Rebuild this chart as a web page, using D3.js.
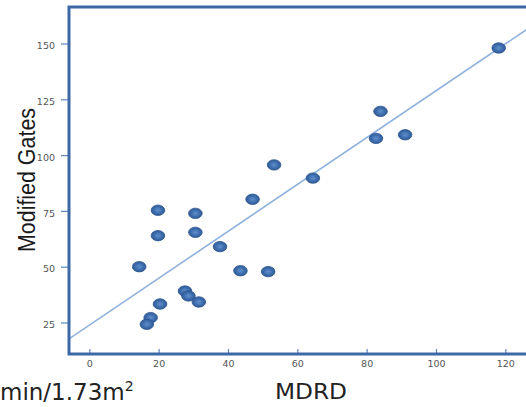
<!DOCTYPE html>
<html>
<head>
<meta charset="utf-8">
<script src="https://cdn.jsdelivr.net/npm/d3@7"></script>
<style>
  html, body { margin: 0; padding: 0; background: #fff; overflow: hidden; }
  svg { display: block; }
</style>
</head>
<body>
<script>
// eGFR by MDRD (x) against Modified Gates (y), one entry per patient
const mdrd = [53.3, 47.1, 19.8, 30.6, 19.8, 30.6, 37.7, 14.4, 43.6, 51.6, 27.6,
              28.6, 31.6, 20.4, 17.7, 16.6, 118.1, 84.0, 82.7, 91.1, 64.5];
const gates = [95.6, 80.2, 75.3, 73.9, 63.9, 65.4, 59.0, 50.0, 48.2, 47.8, 39.1,
               36.9, 34.2, 33.3, 27.2, 24.2, 148.0, 119.6, 107.5, 109.1, 89.7];

// fit line: gates = intercept + slope * mdrd
const fitIntercept = 23.8;
const fitSlope = 1.05;

const xTicks = [0, 20, 40, 60, 80, 100, 120];
const yTicks = [25, 50, 75, 100, 125, 150];

const W = 526, H = 407;
const frame = { left: 69, top: 7, right: 527.5, bottom: 354 };

const x = d3.scaleLinear().domain([0, 120]).range([89.3, 505.3]);
const y = d3.scaleLinear().domain([25, 150]).range([322.5, 43.5]);

const svg = d3.select("body").append("svg")
  .attr("width", W).attr("height", H);

const defs = svg.append("defs");
const grad = defs.append("radialGradient").attr("id", "dot")
  .attr("cx", "50%").attr("cy", "50%").attr("r", "55%");
grad.append("stop").attr("offset", "0%").attr("stop-color", "#5f90cc");
grad.append("stop").attr("offset", "55%").attr("stop-color", "#3f6eae");
grad.append("stop").attr("offset", "100%").attr("stop-color", "#2c5690");

defs.append("clipPath").attr("id", "plotClip")
  .append("rect")
  .attr("x", frame.left).attr("y", frame.top)
  .attr("width", frame.right - frame.left)
  .attr("height", frame.bottom - frame.top);

// fit line, clipped to the plot frame
const xd0 = x.invert(frame.left), xd1 = x.invert(frame.right);
svg.append("line")
  .attr("clip-path", "url(#plotClip)")
  .attr("x1", x(xd0)).attr("y1", y(fitIntercept + fitSlope * xd0))
  .attr("x2", x(xd1)).attr("y2", y(fitIntercept + fitSlope * xd1))
  .attr("stroke", "#8fb2dd").attr("stroke-width", 1.6);

// points
svg.append("g").selectAll("ellipse")
  .data(mdrd.map((v, i) => [v, gates[i]]))
  .join("ellipse")
  .attr("cx", d => x(d[0])).attr("cy", d => y(d[1]))
  .attr("rx", 6.8).attr("ry", 5.2)
  .attr("fill", "url(#dot)")
  .attr("stroke", "#2b5590").attr("stroke-width", 0.8);

// y axis ticks (outside) and labels
const yAxis = d3.axisLeft(y).tickValues(yTicks).tickSize(8).tickPadding(6);
const gy = svg.append("g").attr("transform", `translate(${frame.left},0)`).call(yAxis);
gy.select(".domain").remove();
gy.selectAll(".tick line").attr("stroke", "#5a86c2").attr("stroke-width", 1.2);
gy.selectAll(".tick text")
  .attr("font-family", "DejaVu Sans").attr("font-size", 9.5)
  .attr("fill", "#555").attr("dy", "0.55em").attr("x", -14);

// x axis ticks (inside) and labels
const xAxis = d3.axisBottom(x).tickValues(xTicks).tickSize(-5).tickPadding(10);
const gx = svg.append("g").attr("transform", `translate(0,${frame.bottom})`).call(xAxis);
gx.select(".domain").remove();
gx.selectAll(".tick line").attr("stroke", "#5a86c2").attr("stroke-width", 1.2);
gx.selectAll(".tick text")
  .attr("font-family", "DejaVu Sans").attr("font-size", 9.5)
  .attr("fill", "#555").attr("y", 6);

// plot frame
svg.append("rect")
  .attr("x", frame.left).attr("y", frame.top)
  .attr("width", frame.right - frame.left)
  .attr("height", frame.bottom - frame.top)
  .attr("fill", "none").attr("stroke", "#3d68a6").attr("stroke-width", 3);

// axis titles
svg.append("text")
  .attr("transform", "translate(34.5,180) rotate(-90)")
  .attr("text-anchor", "middle")
  .attr("font-family", "Liberation Sans").attr("font-size", 23.5)
  .attr("textLength", 144).attr("lengthAdjust", "spacingAndGlyphs")
  .attr("fill", "#1a1a1a")
  .text("Modified Gates");

svg.append("text")
  .attr("x", 311).attr("y", 398.5)
  .attr("text-anchor", "middle")
  .attr("font-family", "DejaVu Sans").attr("font-size", 20.5)
  .attr("textLength", 72).attr("lengthAdjust", "spacingAndGlyphs")
  .attr("fill", "#222")
  .text("MDRD");

const unit = svg.append("text")
  .attr("x", 0).attr("y", 399.5)
  .attr("font-family", "DejaVu Sans").attr("font-size", 23)
  .attr("fill", "#222");
unit.append("tspan").text("min/1.73m");
unit.append("tspan").attr("font-size", 14).attr("dy", -9).text("2");
</script>
</body>
</html>
